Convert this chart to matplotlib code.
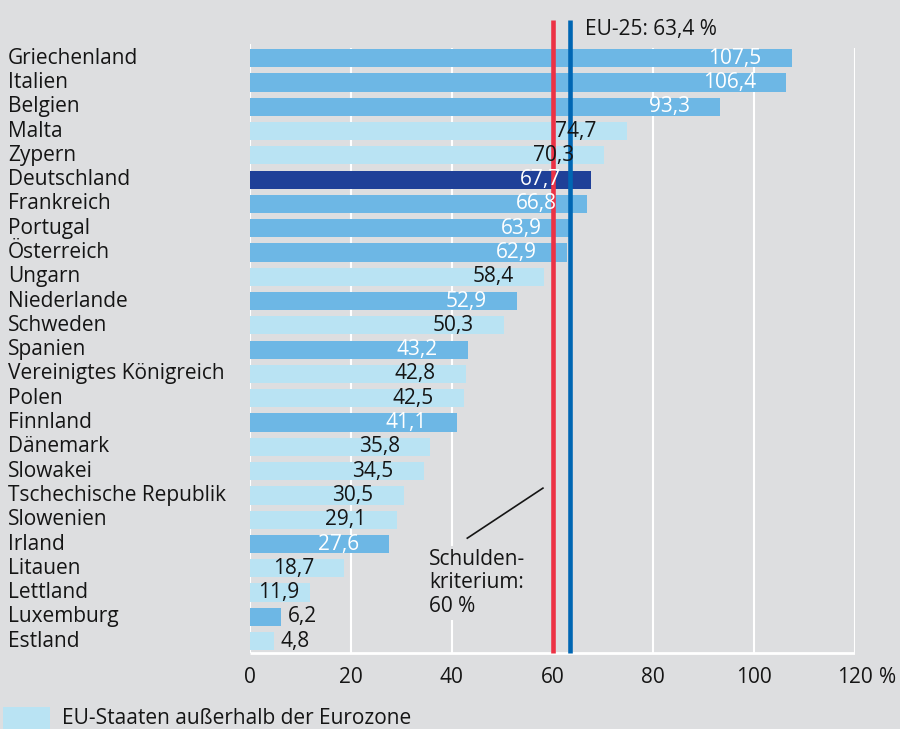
import numpy as np
import matplotlib
matplotlib.use("Agg")
import matplotlib.pyplot as plt
from matplotlib import transforms
from matplotlib.patches import Rectangle

# Staatsverschuldung 2005 in % des BIP
countries = [
    "Griechenland", "Italien", "Belgien", "Malta", "Zypern", "Deutschland",
    "Frankreich", "Portugal", "Österreich", "Ungarn", "Niederlande", "Schweden",
    "Spanien", "Vereinigtes Königreich", "Polen", "Finnland", "Dänemark",
    "Slowakei", "Tschechische Republik", "Slowenien", "Irland", "Litauen",
    "Lettland", "Luxemburg", "Estland",
]
debt = [
    107.5, 106.4, 93.3, 74.7, 70.3, 67.7, 66.8, 63.9, 62.9, 58.4, 52.9, 50.3,
    43.2, 42.8, 42.5, 41.1, 35.8, 34.5, 30.5, 29.1, 27.6, 18.7, 11.9, 6.2, 4.8,
]
# "euro" = Eurozone, "non" = ausserhalb, "de" = Deutschland
group = [
    "euro", "euro", "euro", "non", "non", "de", "euro", "euro", "euro", "non",
    "euro", "non", "euro", "non", "non", "euro", "non", "non", "non", "non",
    "euro", "non", "non", "euro", "non",
]
criterion = 60.0
eu25_avg = 63.4
x_ticks = [0, 20, 40, 60, 80, 100, 120]

BG = "#dddee0"
colors = {"euro": "#6db7e5", "non": "#b9e3f3", "de": "#1f4098"}
RED = "#ec3245"
BLUE = "#0066b3"
INK = "#151515"

plt.rcParams["font.family"] = ["Open Sans", "DejaVu Sans"]
FS = 15

fig = plt.figure(figsize=(9, 7.29), dpi=100, facecolor=BG)
ax = fig.add_axes([250 / 900, 0.0905, 605 / 900, 0.883])
ax.set_facecolor(BG)
for s in ax.spines.values():
    s.set_visible(False)
ax.set_xlim(0, 120)
ax.set_ylim(24.9, -1.6)
ax.set_xticks([])
ax.set_yticks([])

y = np.arange(len(countries))
bottom = 24.49

# white grid
ax.vlines(x_ticks[1:], -0.41, bottom, color="white", lw=1.5, zorder=1)
ax.vlines(0, -0.58, bottom, color="white", lw=1.5, zorder=1)
ax.hlines(bottom, 0, 120, color="white", lw=2, zorder=1)

ax.barh(y, debt, height=0.75, color=[colors[g] for g in group], zorder=2)

# reference lines
ax.vlines(criterion, -1.565, bottom, color=RED, lw=3.3, zorder=3)
ax.vlines(eu25_avg, -1.565, bottom, color=BLUE, lw=3.3, zorder=3)
ax.text(66.5, -1.19, "EU-25: 63,4 %", fontsize=FS, va="center", ha="left",
        color=INK, zorder=4, clip_on=False)

# value labels
for yi, v, g in zip(y, debt, group):
    txt = f"{v:.1f}".replace(".", ",")
    tc = INK if g == "non" else "white"
    if v < 10:
        ax.text(v + 1.3, yi, txt, fontsize=FS, color=INK, ha="left",
                va="center", zorder=4)
    elif v < 15:
        ax.text(1.5, yi, txt, fontsize=FS, color=tc, ha="left",
                va="center", zorder=4)
    else:
        ax.text(v - 6, yi, txt, fontsize=FS, color=tc, ha="right",
                va="center", zorder=4)

# country names on the left
tr = transforms.blended_transform_factory(fig.transFigure, ax.transData)
for yi, name in zip(y, countries):
    ax.text(8 / 900, yi, name, transform=tr, fontsize=FS, ha="left",
            va="center", color=INK, clip_on=False)

# x tick labels
for t in x_ticks:
    ax.text(t, 25.48, str(t), fontsize=FS, ha="center", va="center",
            color=INK, clip_on=False)
ax.text(124.8, 25.48, "%", fontsize=FS, ha="left", va="center",
        color=INK, clip_on=False)

# criterion annotation
ax.plot([43.1, 58.1], [19.76, 17.7], color=INK, lw=1.2, zorder=4)
ax.text(35.5, 21.6, "Schulden-\nkriterium:\n60 %", fontsize=FS, ha="left",
        va="center", color=INK, linespacing=1.15, zorder=4,
        bbox=dict(boxstyle="square,pad=0.15", fc=BG, ec="none"))

# legend
fig.patches.append(Rectangle((3 / 900, 0), 47 / 900, 22 / 729,
                             transform=fig.transFigure, fc=colors["non"],
                             ec="none"))
fig.text(62 / 900, 1 - 719 / 729, "EU-Staaten außerhalb der Eurozone",
         fontsize=FS, ha="left", va="center", color=INK)

fig.savefig("out.png", dpi=100, facecolor=BG)
